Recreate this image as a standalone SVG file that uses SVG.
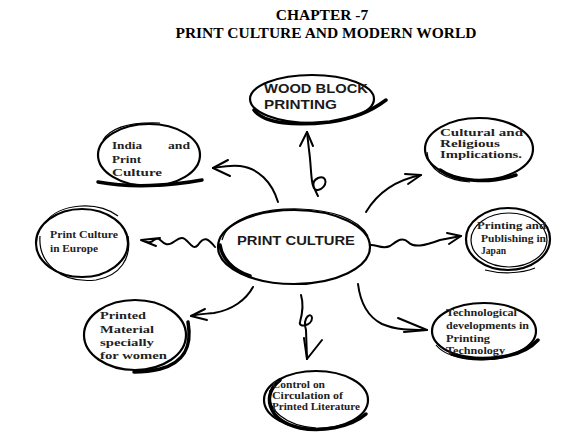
<svg xmlns="http://www.w3.org/2000/svg" width="582" height="443" viewBox="0 0 582 443">
<defs>
<style>
.title{font-family:"Liberation Serif",serif;font-weight:bold;font-size:15.5px;fill:#000;text-anchor:middle}
.sans{font-family:"Liberation Sans",Arial,sans-serif;font-weight:bold;fill:#1a1a1a}
.ser{font-family:"Liberation Serif",serif;font-weight:bold;font-size:11px;fill:#222}
.e{fill:#fff;stroke:#000;stroke-width:2.2}
.e2{fill:none;stroke:#000;stroke-width:1.2}
.e3{fill:none;stroke:#000;stroke-width:3.5;stroke-linecap:round}
.c{fill:none;stroke:#000;stroke-width:2;stroke-linecap:round;stroke-linejoin:round}
</style>
</defs>
<rect width="582" height="443" fill="#fff"/>
<text class="title" x="322" y="20">CHAPTER -7</text>
<text class="title" x="326" y="38">PRINT CULTURE AND MODERN WORLD</text>

<g id="connectors">
<path class="c" d="M318,196 C314,188 310,182 318,178 C328,174 328,188 318,190 C310,192 312,170 309,150 L307,132"/>
<path class="c" d="M300,146 L307,132 L313,146"/>
<path class="c" d="M278,202 C272,182 258,168 240,166 C228,165 220,167 213,168"/>
<path class="c" d="M228,160 L213,168 L230,176"/>
<path class="c" d="M366,212 C378,192 396,180 421,175"/>
<path class="c" d="M405,174 L421,175 L408,184"/>
<path class="c" d="M215,247 C208,238 204,236 198,245 C192,252 188,238 182,238 C176,238 172,246 166,244 C160,242 160,236 154,240 C150,244 146,242 141,240 L160,238 M141,240 L156,246"/>
<path class="c" d="M370,245 C376,244 382,250 390,246 C396,242 402,236 408,242 C414,248 424,246 440,240 L461,236"/>
<path class="c" d="M447,233 L461,236 L449,244"/>
<path class="c" d="M253,287 C246,300 232,310 214,313 C204,314 198,314 191,316"/>
<path class="c" d="M205,309 L191,316 L207,320"/>
<path class="c" d="M301,295 C304,305 302,315 300,322 C298,328 312,326 312,318 C312,312 302,316 306,330 L307,359"/>
<path class="c" d="M307,359 L304,338 M307,359 L322,340"/>
<path class="c" d="M358,284 C360,300 366,316 382,324 C396,330 410,330 427,330"/>
<path class="c" d="M398,318 L427,330 L404,332"/>
</g>

<g id="central">
<ellipse class="e" cx="294" cy="247" rx="76" ry="37"/>
<path class="e2" d="M222,240 C228,218 262,208 300,209 C330,210 358,218 368,236"/>
<path class="e3" d="M220,245 C222,258 232,270 250,276"/>
<text class="sans" x="237" y="245" font-size="13" textLength="118" lengthAdjust="spacingAndGlyphs">PRINT CULTURE</text>
</g>

<g id="wood">
<ellipse class="e" cx="312" cy="99" rx="62" ry="24"/>
<path class="e3" d="M254,110 C264,124 296,126 330,122 C354,118 370,112 386,100"/>
<text class="sans" x="264" y="93" font-size="12.5" textLength="104" lengthAdjust="spacingAndGlyphs">WOOD BLOCK</text>
<text class="sans" x="264" y="109" font-size="12.5" textLength="73" lengthAdjust="spacingAndGlyphs">PRINTING</text>
</g>

<g id="india">
<ellipse class="e" cx="149" cy="155" rx="51" ry="31"/>
<path class="e3" d="M98,182 C130,188 170,186 202,180"/>
<path class="e2" d="M103,140 C112,126 134,122 160,123"/>
<text class="ser" x="112" y="149" textLength="30" lengthAdjust="spacingAndGlyphs">India</text>
<text class="ser" x="168" y="149" textLength="22" lengthAdjust="spacingAndGlyphs">and</text>
<text class="ser" x="112" y="163" textLength="29" lengthAdjust="spacingAndGlyphs">Print</text>
<text class="ser" x="112" y="176" textLength="50" lengthAdjust="spacingAndGlyphs">Culture</text>
</g>

<g id="cultural">
<ellipse class="e" cx="479" cy="149" rx="54" ry="31"/>
<path class="e3" d="M440,170 C456,182 490,184 516,175"/>
<path class="e2" d="M427,152 C428,170 446,180 470,182"/>
<text class="ser" x="440" y="136" textLength="83" lengthAdjust="spacingAndGlyphs">Cultural and</text>
<text class="ser" x="440" y="147" textLength="60" lengthAdjust="spacingAndGlyphs">Religious</text>
<text class="ser" x="440" y="158" textLength="82" lengthAdjust="spacingAndGlyphs">Implications.</text>
</g>

<g id="europe">
<ellipse class="e" cx="82" cy="243" rx="46" ry="34"/>
<path class="e2" d="M40,236 C38,262 60,284 96,280 C120,276 132,258 128,236"/>
<path class="e2" d="M46,222 C58,204 96,200 118,216"/>
<text class="ser" x="50" y="238" font-size="10" textLength="68" lengthAdjust="spacingAndGlyphs">Print  Culture</text>
<text class="ser" x="50" y="252" font-size="10" textLength="48" lengthAdjust="spacingAndGlyphs">in Europe</text>
</g>

<g id="japan">
<ellipse class="e" cx="508" cy="239" rx="42" ry="31"/>
<ellipse class="e2" cx="509" cy="240" rx="38" ry="27"/>
<path class="e2" d="M485,270 C500,274 520,274 535,268"/>
<text class="ser" x="477" y="229" font-size="10" textLength="69" lengthAdjust="spacingAndGlyphs">Printing  and</text>
<text class="ser" x="481" y="242" font-size="10" textLength="65" lengthAdjust="spacingAndGlyphs">Publishing in</text>
<text class="ser" x="481" y="254" font-size="10" textLength="25" lengthAdjust="spacingAndGlyphs">Japan</text>
</g>

<g id="women">
<ellipse class="e" cx="135" cy="335" rx="51" ry="35"/>
<path class="e3" d="M188,322 C192,345 186,362 160,369 C148,372 140,372 134,372"/>
<text class="ser" x="100" y="319" textLength="46" lengthAdjust="spacingAndGlyphs">Printed</text>
<text class="ser" x="100" y="333" textLength="54" lengthAdjust="spacingAndGlyphs">Material</text>
<text class="ser" x="100" y="346" textLength="54" lengthAdjust="spacingAndGlyphs">specially</text>
<text class="ser" x="100" y="359" textLength="67" lengthAdjust="spacingAndGlyphs">for women</text>
</g>

<g id="tech">
<ellipse class="e" cx="484" cy="331" rx="52" ry="28"/>
<path class="e3" d="M452,354 C478,362 520,360 538,340"/>
<path class="e2" d="M436,345 C448,360 480,362 500,358"/>
<text class="ser" x="446" y="316" font-size="10" textLength="71" lengthAdjust="spacingAndGlyphs">Technological</text>
<text class="ser" x="446" y="329" font-size="10" textLength="83" lengthAdjust="spacingAndGlyphs">developments   in</text>
<text class="ser" x="446" y="342" font-size="10" textLength="44" lengthAdjust="spacingAndGlyphs">Printing</text>
<text class="ser" x="446" y="354" font-size="10" textLength="59" lengthAdjust="spacingAndGlyphs">Technology</text>
</g>

<g id="control">
<ellipse class="e" cx="316" cy="400" rx="52" ry="29"/>
<path class="e3" d="M280,380 C262,394 266,420 300,428 C320,432 350,428 366,414"/>
<path class="e2" d="M270,390 C266,410 286,426 316,428"/>
<text class="ser" x="272" y="388" font-size="10" textLength="53" lengthAdjust="spacingAndGlyphs">Control on</text>
<text class="ser" x="272" y="399" font-size="10" textLength="71" lengthAdjust="spacingAndGlyphs">Circulation of</text>
<text class="ser" x="272" y="410" font-size="10" textLength="88" lengthAdjust="spacingAndGlyphs">Printed Literature</text>
</g>
</svg>
